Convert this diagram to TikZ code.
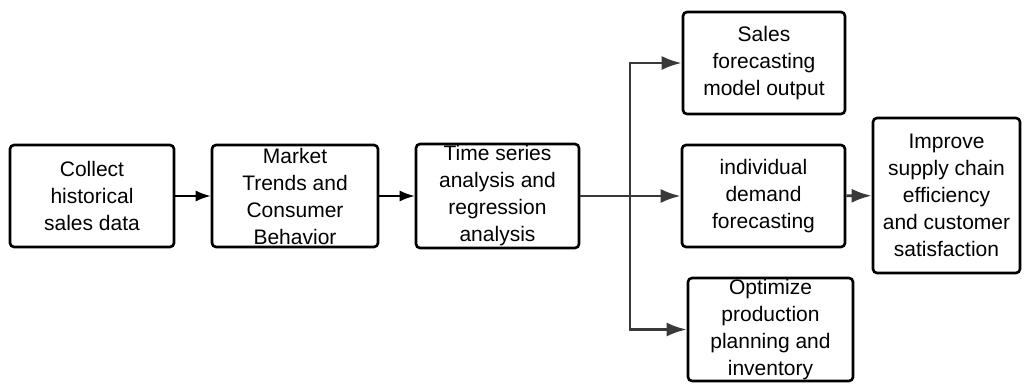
\documentclass[tikz,border=0pt]{standalone}
\usepackage{fontspec}
\setmainfont{Liberation Sans}
\usepackage{tikz}
\usetikzlibrary{arrows.meta}

\tikzset{
    stagebox/.style={draw, line width=2.6pt, rounded corners=4pt, fill=white,
        align=center, inner sep=0pt, font=\fontsize{21}{27}\selectfont},
    thinflow/.style={-{Latex[length=15pt, width=11pt]}, line width=1.8pt, color=black},
    thickflow/.style={-{Latex[length=20pt, width=14pt]}, line width=2.8pt, color=darkgray!90!black}
}

\begin{document}
\begin{tikzpicture}[x=1pt, y=-1pt]

    % canvas
    \useasboundingbox (0,0) rectangle (1028,383);

    % first row of stages
    \node [stagebox, minimum width=164, minimum height=102] (collect) at (92,196) {Collect\\ historical\\ sales data};
    \node [stagebox, minimum width=166, minimum height=102] (market) at (295,196) {Market\\ Trends and\\ Consumer\\ Behavior};
    \node [stagebox, minimum width=163, minimum height=104] (series) at (497.5,196) {Time series\\ analysis and\\ regression\\ analysis};

    % outputs
    \node [stagebox, minimum width=162, minimum height=102] (sales) at (764,63) {Sales\\ forecasting\\ model output};
    \node [stagebox, minimum width=163, minimum height=102] (demand) at (763.5,196) {individual\\ demand\\ forecasting};
    \node [stagebox, minimum width=165, minimum height=103] (optimize) at (770.5,329.5) {Optimize\\ production\\ planning and\\ inventory};

    \node [stagebox, minimum width=147, minimum height=155] (improve) at (946.5,195.5) {Improve\\ supply chain\\ efficiency\\ and customer\\ satisfaction};

    % flow
    \draw[thinflow] (collect) -- (market);
    \draw[thinflow] (market) -- (series);

    \coordinate (split) at (630,196);
    \draw[thickflow] (series) -- (split) -- (demand);
    \draw[thickflow] (split) |- (sales);
    \draw[thickflow] (split) |- (optimize);
    \draw[thickflow] (demand) -- (improve);

\end{tikzpicture}
\end{document}
